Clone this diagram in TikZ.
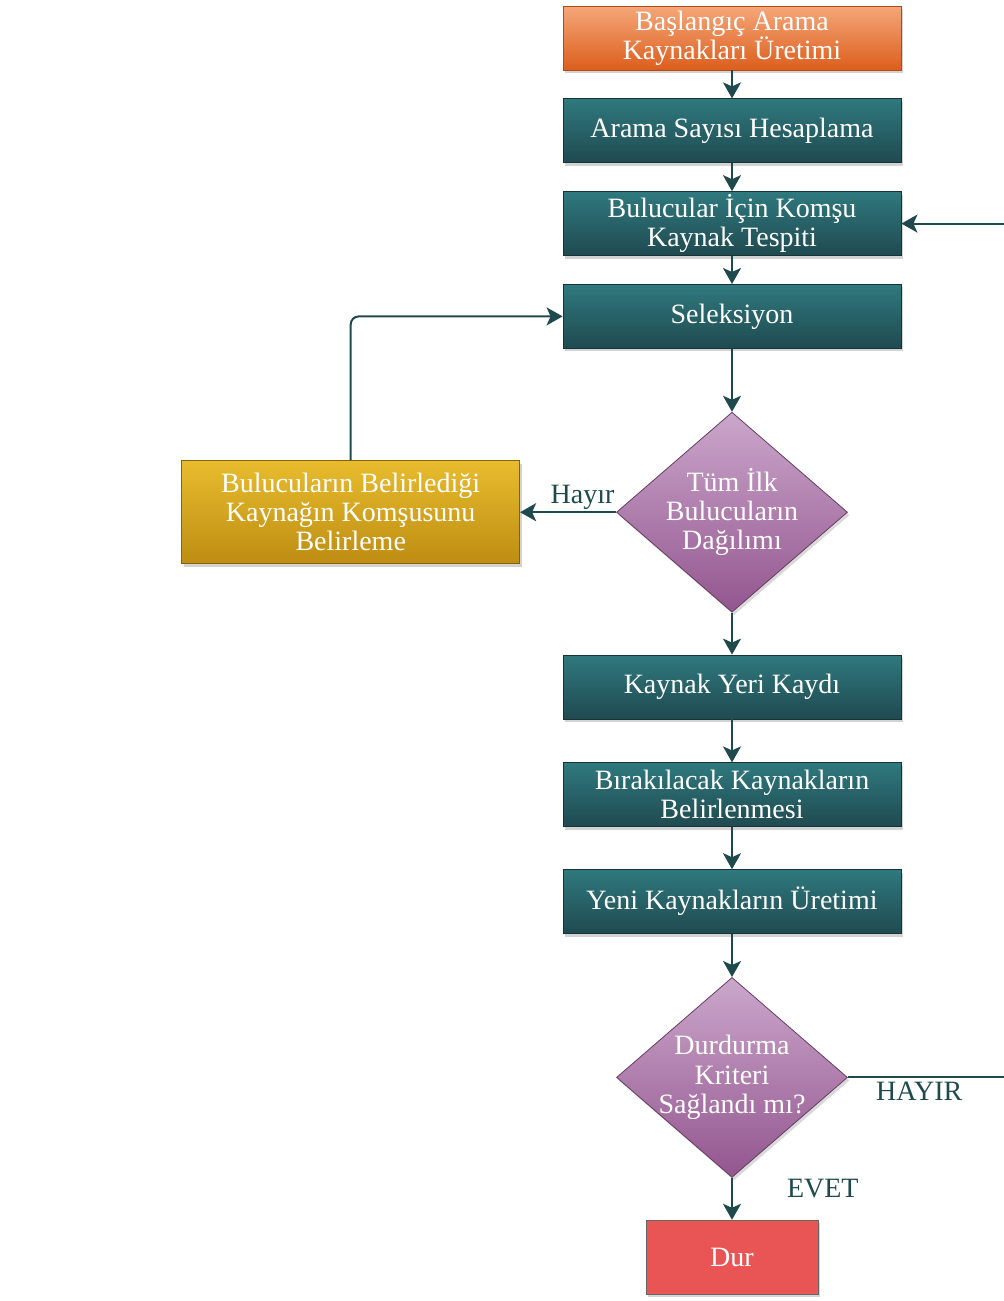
\documentclass[tikz,border=0pt]{standalone}
\usepackage{fontspec}
\setmainfont{Liberation Serif}
\usetikzlibrary{shapes,arrows.meta,positioning,shadows}

\definecolor{tealtop}{HTML}{2F797E}
\definecolor{tealbot}{HTML}{1F4A50}
\definecolor{orangetop}{HTML}{F5A77A}
\definecolor{orangebot}{HTML}{DC5E1C}
\definecolor{goldtop}{HTML}{E8BC2E}
\definecolor{goldbot}{HTML}{BE8D12}
\definecolor{purpletop}{HTML}{CBA7CB}
\definecolor{purplebot}{HTML}{93568F}
\definecolor{durred}{HTML}{E95555}
\definecolor{linecol}{HTML}{1E4A4E}

\begin{document}
\begin{tikzpicture}[
    x=0.5pt, y=-0.5pt,
    node distance=14pt,
    font=\fontsize{14}{14.6}\selectfont,
    process/.style={rectangle, draw=tealbot!70!black, text=white, align=center, inner sep=1pt, minimum width=169pt, minimum height=32pt, top color=tealtop, bottom color=tealbot, drop shadow={shadow xshift=1pt, shadow yshift=-1.5pt, opacity=0.35}},
    decision/.style={diamond, draw=purplebot!70!black, text=white, align=center, aspect=1.155, minimum width=115.5pt, minimum height=100pt, inner sep=-5pt, top color=purpletop, bottom color=purplebot, drop shadow={shadow xshift=1pt, shadow yshift=-1.5pt, opacity=0.3}},
    arrow/.style={line width=1pt, draw=linecol, -{Stealth[length=8pt,width=9pt,inset=2pt]}},
    tag/.style={text=linecol, inner sep=1pt}
]
\useasboundingbox (0,0) rectangle (1003,1301);

% Main flow
\node[process, top color=orangetop, bottom color=orangebot, draw=orangebot!80!black] (start) at (732,38) {Başlangıç Arama\\Kaynakları Üretimi};
\node[process, below=of start] (arama) {Arama Sayısı Hesaplama};
\node[process, below=of arama] (komsu) {Bulucular İçin Komşu\\Kaynak Tespiti};
\node[process, below=of komsu] (sel) {Seleksiyon};
\node[decision, below=31.5pt of sel] (dag) {Tüm İlk\\Bulucuların\\Dağılımı};
\node[process, below=21pt of dag] (kayit) {Kaynak Yeri Kaydı};
\node[process, below=21.5pt of kayit] (birak) {Bırakılacak Kaynakların\\Belirlenmesi};
\node[process, below=21pt of birak] (yeni) {Yeni Kaynakların Üretimi};
\node[decision, below=21.5pt of yeni] (kriter) {Durdurma\\Kriteri\\Sağlandı mı?};
\node[process, below=21pt of kriter, minimum width=86pt, minimum height=37pt, top color=durred, bottom color=durred, draw=black!60] (dur) {Dur};

% Side branch
\node[process, left=48pt of dag, minimum height=51.5pt, top color=goldtop, bottom color=goldbot, draw=goldbot!70!black] (belirle) {Bulucuların Belirlediği\\Kaynağın Komşusunu\\Belirleme};

% Arrows
\draw[arrow] (start) -- (arama);
\draw[arrow] (arama) -- (komsu);
\draw[arrow] (komsu) -- (sel);
\draw[arrow] (sel) -- (dag);
\draw[arrow] (dag) -- node[tag, pos=0.35, above] {Hayır} (belirle);
\draw[arrow, rounded corners=4pt] (belirle.north) |- (sel.west);
\draw[arrow] (dag) -- (kayit);
\draw[arrow] (kayit) -- (birak);
\draw[arrow] (birak) -- (yeni);
\draw[arrow] (yeni) -- (kriter);
\draw[arrow] (kriter) -- node[tag, pos=0.25, anchor=west, xshift=26pt] {EVET} (dur);

% Loop back (runs off the right edge)
\coordinate (ret) at (1010,0);
\draw[arrow] (kriter.east) -- node[tag, pos=0.44, below=1pt] {HAYIR} (kriter.east -| ret) |- (komsu.east);

\end{tikzpicture}
\end{document}
